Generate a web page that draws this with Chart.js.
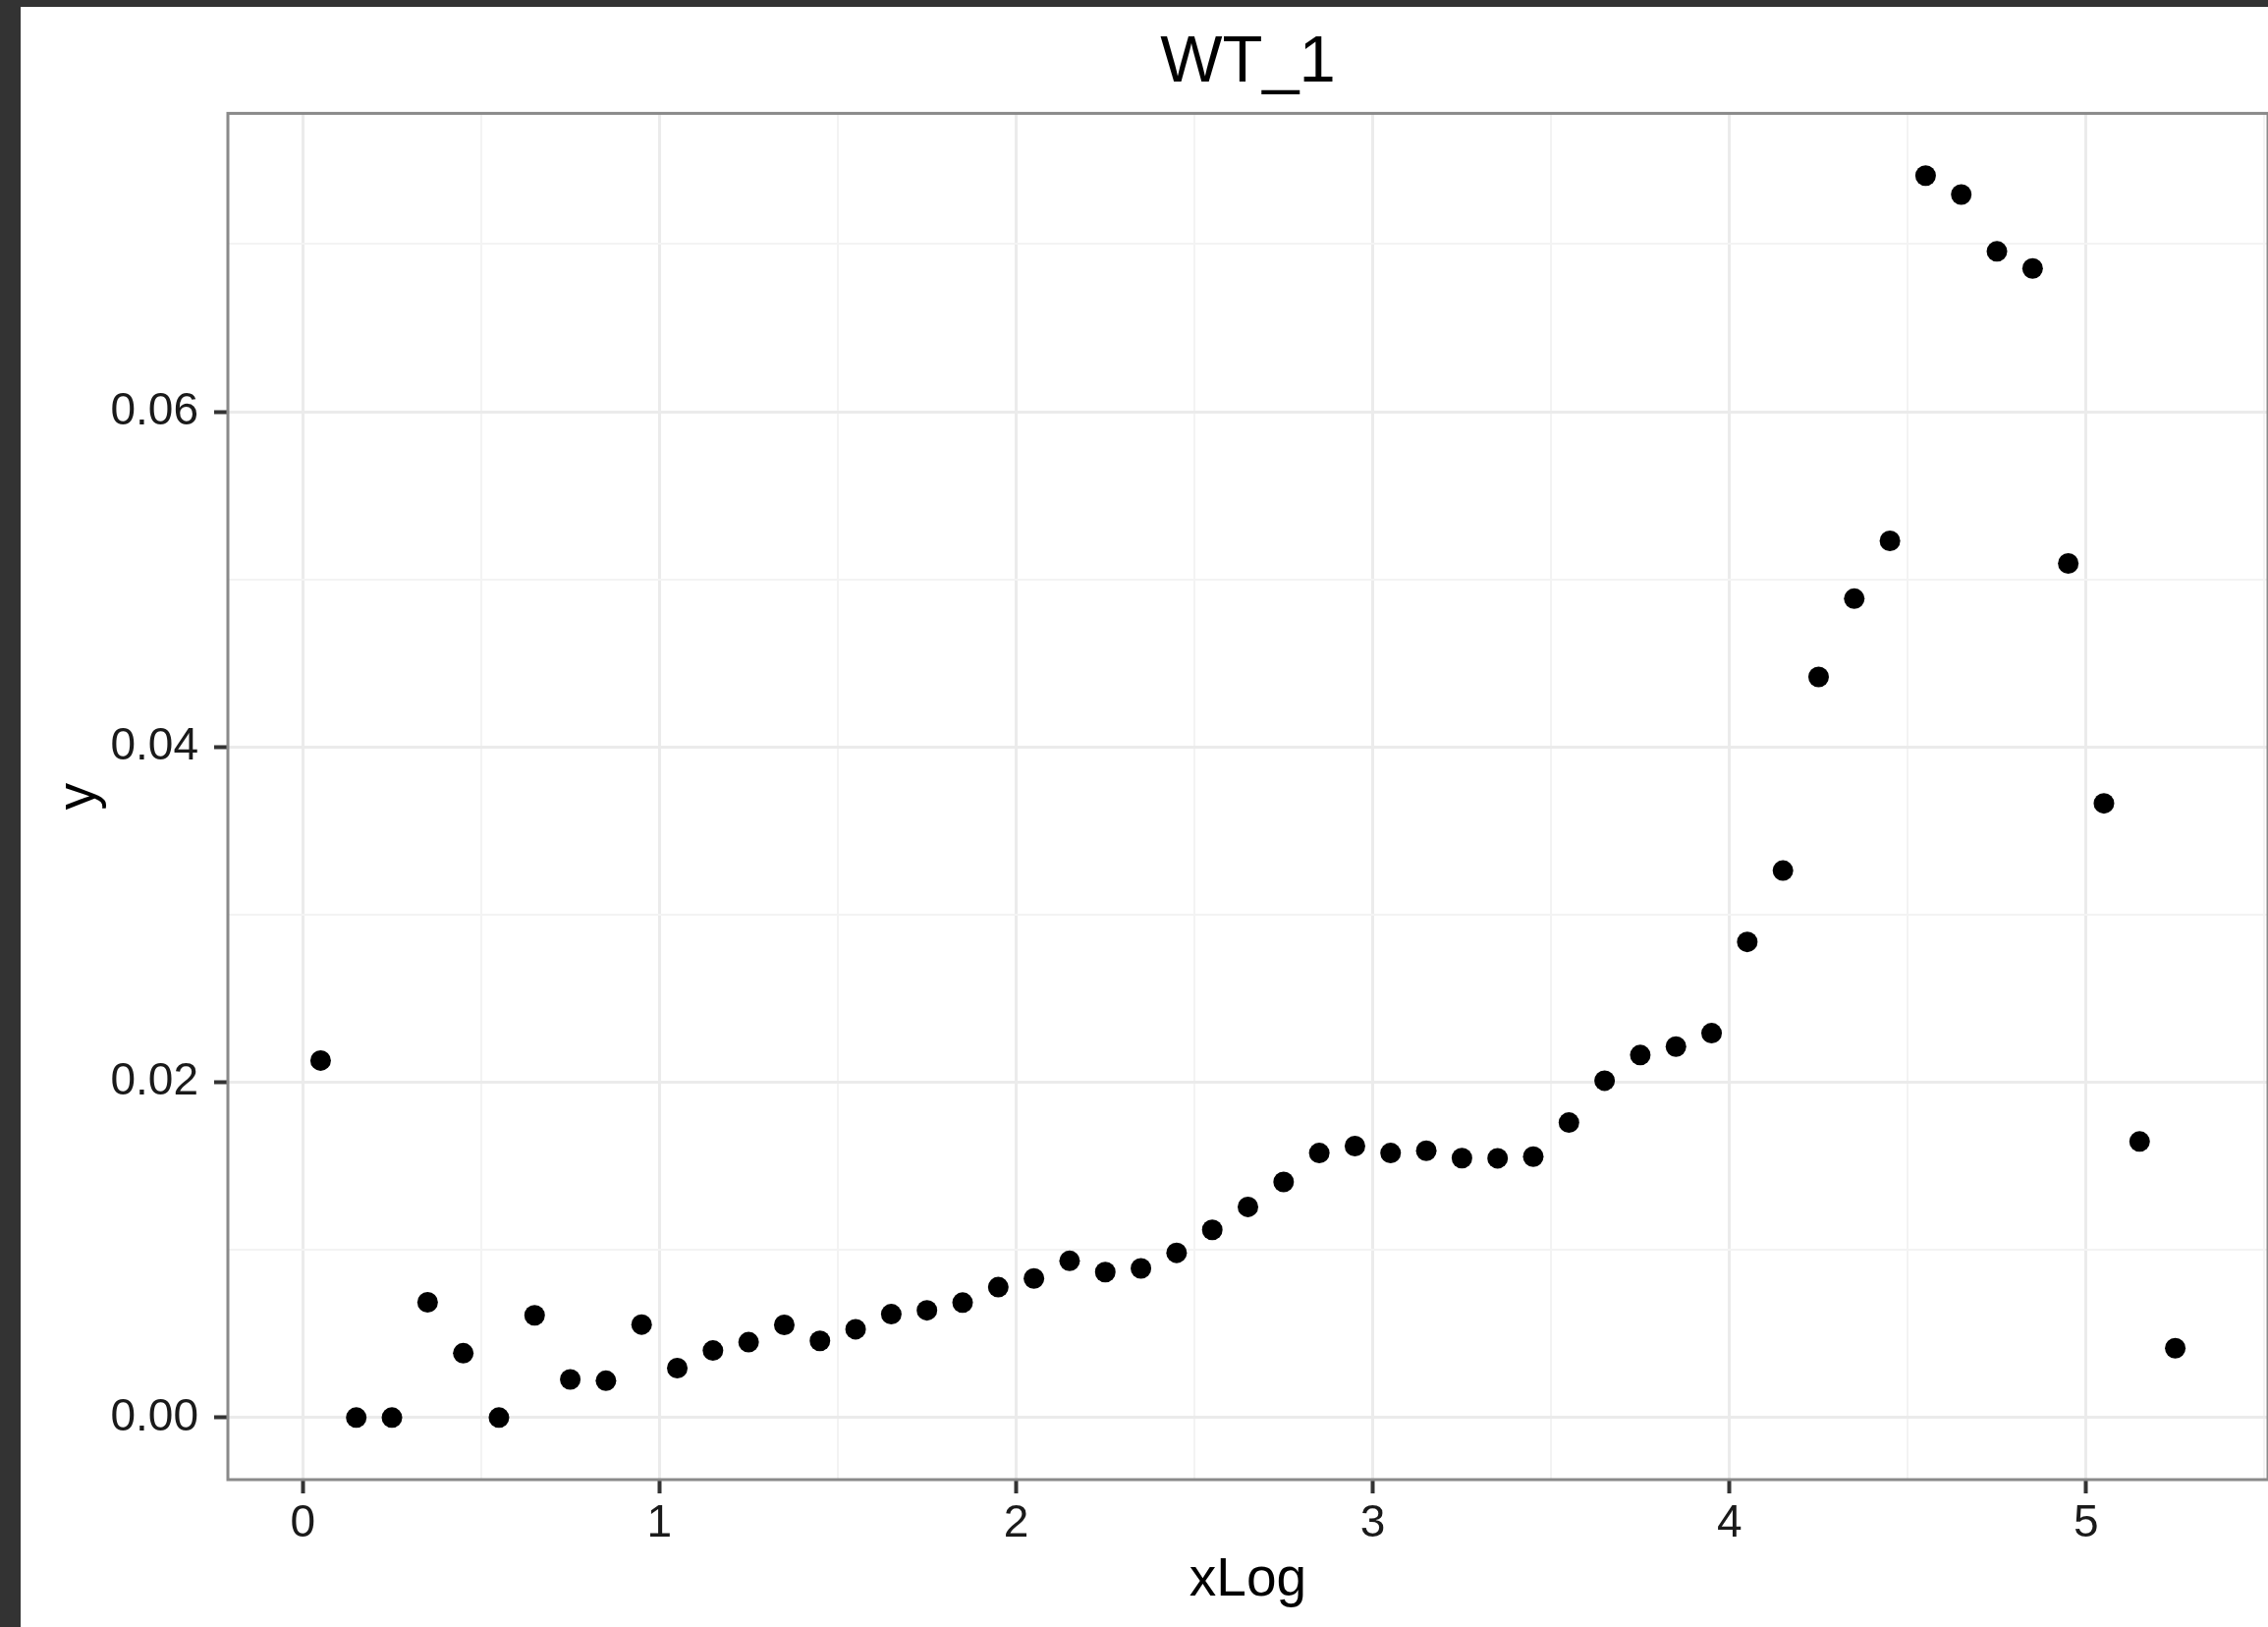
<!DOCTYPE html>
<html>
<head>
<meta charset="utf-8">
<script src="https://cdn.jsdelivr.net/npm/chart.js@4.4.1/dist/chart.umd.min.js"></script>
<style>
  html, body { margin: 0; padding: 0; background: #333333; }
  #frame {
    position: absolute; left: 21px; top: 7px;
    width: 2288px; height: 1649px; background: #ffffff;
  }
  canvas { display: block; }
</style>
</head>
<body>
<div id="frame"><canvas id="chart" width="2288" height="1649"></canvas></div>
<script>
// data
const xLog = [0.05, 0.15, 0.25, 0.35, 0.45, 0.55, 0.65, 0.75, 0.85, 0.95,
              1.05, 1.15, 1.25, 1.35, 1.45, 1.55, 1.65, 1.75, 1.85, 1.95,
              2.05, 2.15, 2.25, 2.35, 2.45, 2.55, 2.65, 2.75, 2.85, 2.95,
              3.05, 3.15, 3.25, 3.35, 3.45, 3.55, 3.65, 3.75, 3.85, 3.95,
              4.05, 4.15, 4.25, 4.35, 4.45, 4.55, 4.65, 4.75, 4.85, 4.95,
              5.05, 5.15, 5.25];
const yVals = [0.0213, 0, 0, 0.00688, 0.00384, 0, 0.0061, 0.00228, 0.0022, 0.00555,
               0.00295, 0.0040, 0.0045, 0.00553, 0.00458, 0.00527, 0.00617, 0.0064, 0.00686, 0.00778,
               0.0083, 0.00935, 0.00868, 0.0089, 0.00983, 0.0112, 0.01257, 0.01406, 0.01578, 0.0162,
               0.01578, 0.01592, 0.01548, 0.01547, 0.01557, 0.0176, 0.0201, 0.02163, 0.02213, 0.02293,
               0.02838, 0.03263, 0.04418, 0.04885, 0.0523, 0.07409, 0.07296, 0.06957, 0.06855, 0.05095,
               0.03664, 0.01647, 0.00414];

const xMajor = [0, 1, 2, 3, 4, 5];
const xLabels = ['0', '1', '2', '3', '4', '5'];
const xMinor = [0.5, 1.5, 2.5, 3.5, 4.5, 5.5];
const yMajor = [0, 0.02, 0.04, 0.06];
const yLabels = ['0.00', '0.02', '0.04', '0.06'];
const yMinor = [0.01, 0.03, 0.05, 0.07];

const FONT = "'Liberation Sans', Arial, Helvetica, sans-serif";
const TEXT = '#1a1a1a';

function gridOpts(major) {
    return {
        color: c => major.includes(c.tick.value) ? '#ebebeb' : '#f3f3f3',
        lineWidth: c => major.includes(c.tick.value) ? 3 : 2,
        tickColor: c => major.includes(c.tick.value) ? '#333333' : 'rgba(0,0,0,0)',
        tickWidth: 4,
        tickLength: 14,
        drawTicks: true
    };
}

// ggplot-style panel border
const panelBorder = {
    id: 'panelBorder',
    afterDatasetsDraw(chart) {
        const a = chart.chartArea, ctx = chart.ctx;
        ctx.save();
        ctx.strokeStyle = '#8a8a8a';
        ctx.lineWidth = 3;
        ctx.strokeRect(a.left, a.top, a.right - a.left, a.bottom - a.top);
        ctx.restore();
    }
};

new Chart(document.getElementById('chart').getContext('2d'), {
    type: 'scatter',
    data: {
        datasets: [{
            label: 'WT_1',
            data: xLog.map((x, i) => ({ x: x, y: yVals[i] })),
            backgroundColor: '#000000',
            borderWidth: 0,
            pointRadius: 10.5,
            pointHoverRadius: 10.5
        }]
    },
    options: {
        responsive: false,
        devicePixelRatio: 1,
        animation: false,
        layout: { padding: 0, autoPadding: false },
        plugins: {
            legend: { display: false },
            tooltip: { enabled: false },
            title: {
                display: true,
                text: 'WT_1',
                fullSize: false,
                color: '#000000',
                font: { family: FONT, size: 67, weight: 'normal', lineHeight: 1.2 },
                padding: { top: 17, bottom: 11 }
            }
        },
        scales: {
            x: {
                type: 'linear',
                min: -0.21,
                max: 5.51,
                afterBuildTicks: s => { s.ticks = xMajor.concat(xMinor).sort((a, b) => a - b).map(v => ({ value: v })); },
                afterFit: s => { s.height = 150; s.paddingLeft = 0; s.paddingRight = 0; },
                ticks: {
                    color: TEXT,
                    padding: 4,
                    maxRotation: 0,
                    autoSkip: false,
                    font: { family: FONT, size: 46 },
                    callback: v => { const i = xMajor.indexOf(v); return i >= 0 ? xLabels[i] : ''; }
                },
                grid: gridOpts(xMajor),
                border: { display: false },
                title: {
                    display: true,
                    text: 'xLog',
                    color: '#000000',
                    font: { family: FONT, size: 55, lineHeight: 1.2 },
                    padding: { top: 0, bottom: 14 }
                }
            },
            y: {
                type: 'linear',
                min: -0.0037,
                max: 0.0778,
                afterBuildTicks: s => { s.ticks = yMajor.concat(yMinor).sort((a, b) => a - b).map(v => ({ value: v })); },
                afterFit: s => { s.width = 211; s.paddingTop = 0; s.paddingBottom = 0; },
                ticks: {
                    color: TEXT,
                    padding: 16,
                    autoSkip: false,
                    font: { family: FONT, size: 46 },
                    callback: v => { const i = yMajor.indexOf(v); return i >= 0 ? yLabels[i] : ''; }
                },
                grid: gridOpts(yMajor),
                border: { display: false },
                title: {
                    display: true,
                    text: 'y',
                    color: '#000000',
                    font: { family: FONT, size: 55, lineHeight: 1.2 },
                    padding: { top: 27, bottom: 0 }
                }
            }
        }
    },
    plugins: [panelBorder]
});
</script>
</body>
</html>
